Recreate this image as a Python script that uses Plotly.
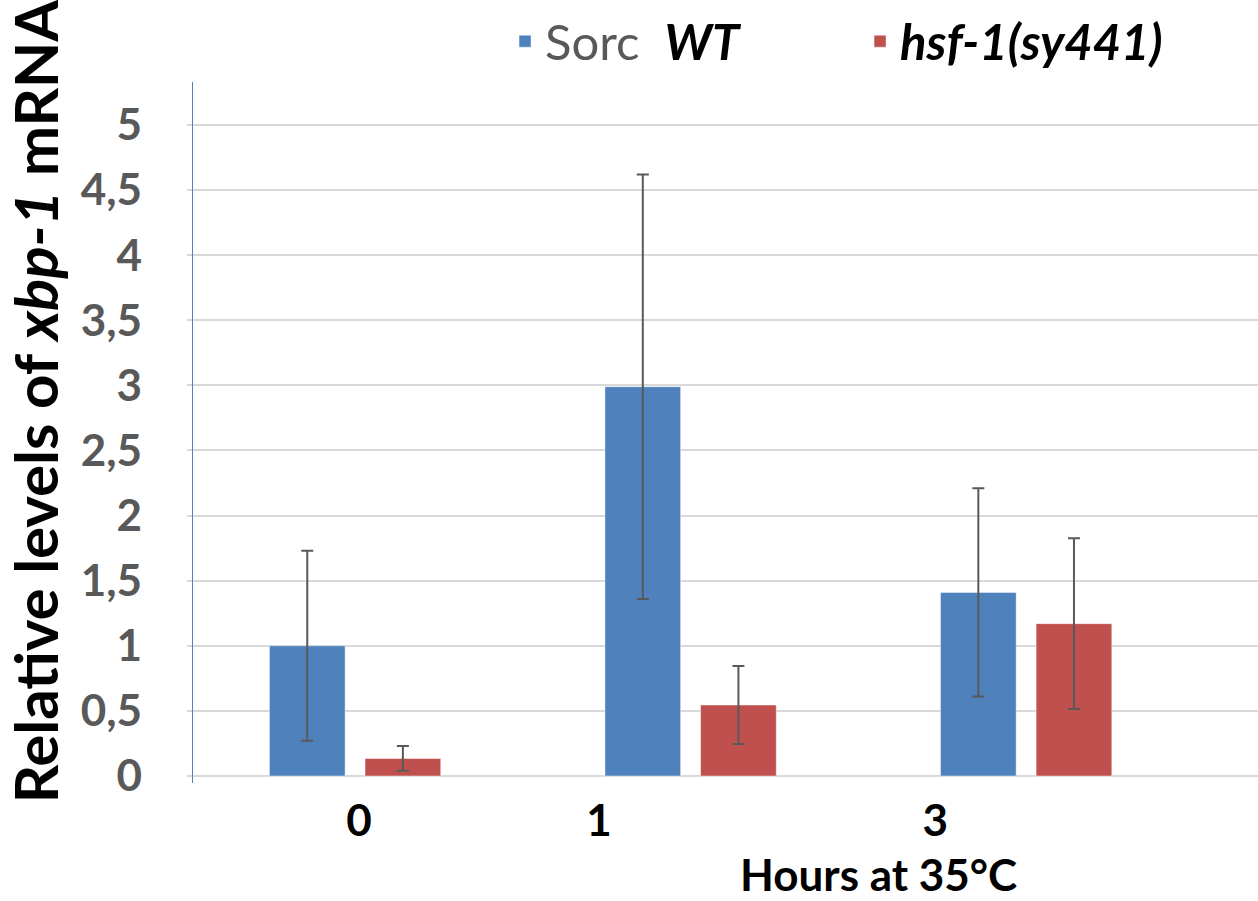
import plotly.graph_objects as go

# ---- data ----
categories = ["0", "1", "3"]          # hours at 35°C
x_pos = [0, 1, 2]
wt_values = [1.00, 2.99, 1.41]
wt_errors = [0.73, 1.63, 0.80]
hsf_values = [0.135, 0.545, 1.17]
hsf_errors = [0.095, 0.30, 0.655]
y_tick_vals = [0, 0.5, 1, 1.5, 2, 2.5, 3, 3.5, 4, 4.5, 5]
y_tick_labels = ["0", "0,5", "1", "1,5", "2", "2,5", "3", "3,5", "4", "4,5", "5"]
x_tick_vals = [0.012, 0.727, 1.729]

wt_name = "<span style='color:#595959;font-weight:normal'>Sorc</span>  <b><i>WT</i></b>"
hsf_name = "<b><i>hsf-1(sy441)</i></b>"

FONT = "Lato"
BLUE = "#4f81bd"
RED = "#c0504d"
ERR = "#595959"

fig = go.Figure()
fig.add_trace(go.Bar(
    x=x_pos, y=wt_values, name=wt_name,
    width=0.2256, offset=-0.2553,
    marker=dict(color=BLUE, line=dict(color="rgba(255,255,255,0.45)", width=1)),
    error_y=dict(type="data", array=wt_errors, visible=True, color=ERR, thickness=2, width=6),
))
fig.add_trace(go.Bar(
    x=x_pos, y=hsf_values, name=hsf_name,
    width=0.2256, offset=0.0297,
    marker=dict(color=RED, line=dict(color="rgba(255,255,255,0.45)", width=1)),
    error_y=dict(type="data", array=hsf_errors, visible=True, color=ERR, thickness=2, width=6),
))

fig.update_layout(
    width=1258, height=901,
    margin=dict(l=193, r=0, t=82, b=118),
    paper_bgcolor="white", plot_bgcolor="white",
    barmode="overlay",
    separators=",.",
    font=dict(family=FONT, color="black"),
    showlegend=True,
    legend=dict(
        orientation="h", x=0.2930, xanchor="left", y=1.058, yanchor="middle",
        font=dict(family=FONT, size=49, color="black"),
        entrywidth=310, bgcolor="rgba(0,0,0,0)", traceorder="normal",
    ),
    xaxis=dict(
        range=[-0.483, 2.691], tickvals=x_tick_vals, ticktext=categories,
        showgrid=False, zeroline=False, showline=False, ticks="",
        tickfont=dict(family=FONT, size=44, color="black", weight="bold"),
        ticklabelstandoff=8, fixedrange=True,
    ),
    yaxis=dict(
        range=[-0.0538, 5.330], tickvals=y_tick_vals, ticktext=y_tick_labels,
        showgrid=True, gridcolor="#d9d9d9", gridwidth=2,
        zeroline=False, showline=True, linecolor=BLUE, linewidth=1.3,
        ticks="outside", ticklen=5, tickcolor="#d9d9d9", tickwidth=2,
        tickfont=dict(family=FONT, size=44, color="#595959", weight="bold"),
        ticklabelstandoff=36, fixedrange=True,
    ),
    annotations=[
        dict(text="Relative levels of <i>xbp-1</i> mRNA", xref="paper", yref="paper",
             x=-0.148, y=0.545, xanchor="center", yanchor="middle", textangle=-90,
             showarrow=False, font=dict(family=FONT, size=60, color="black", weight="bold")),
        dict(text="Hours at 35°C", xref="paper", yref="paper",
             x=0.644, y=-0.1298, xanchor="center", yanchor="middle",
             showarrow=False, font=dict(family=FONT, size=44, color="black", weight="bold")),
    ],
)

fig.write_html("out.html")
